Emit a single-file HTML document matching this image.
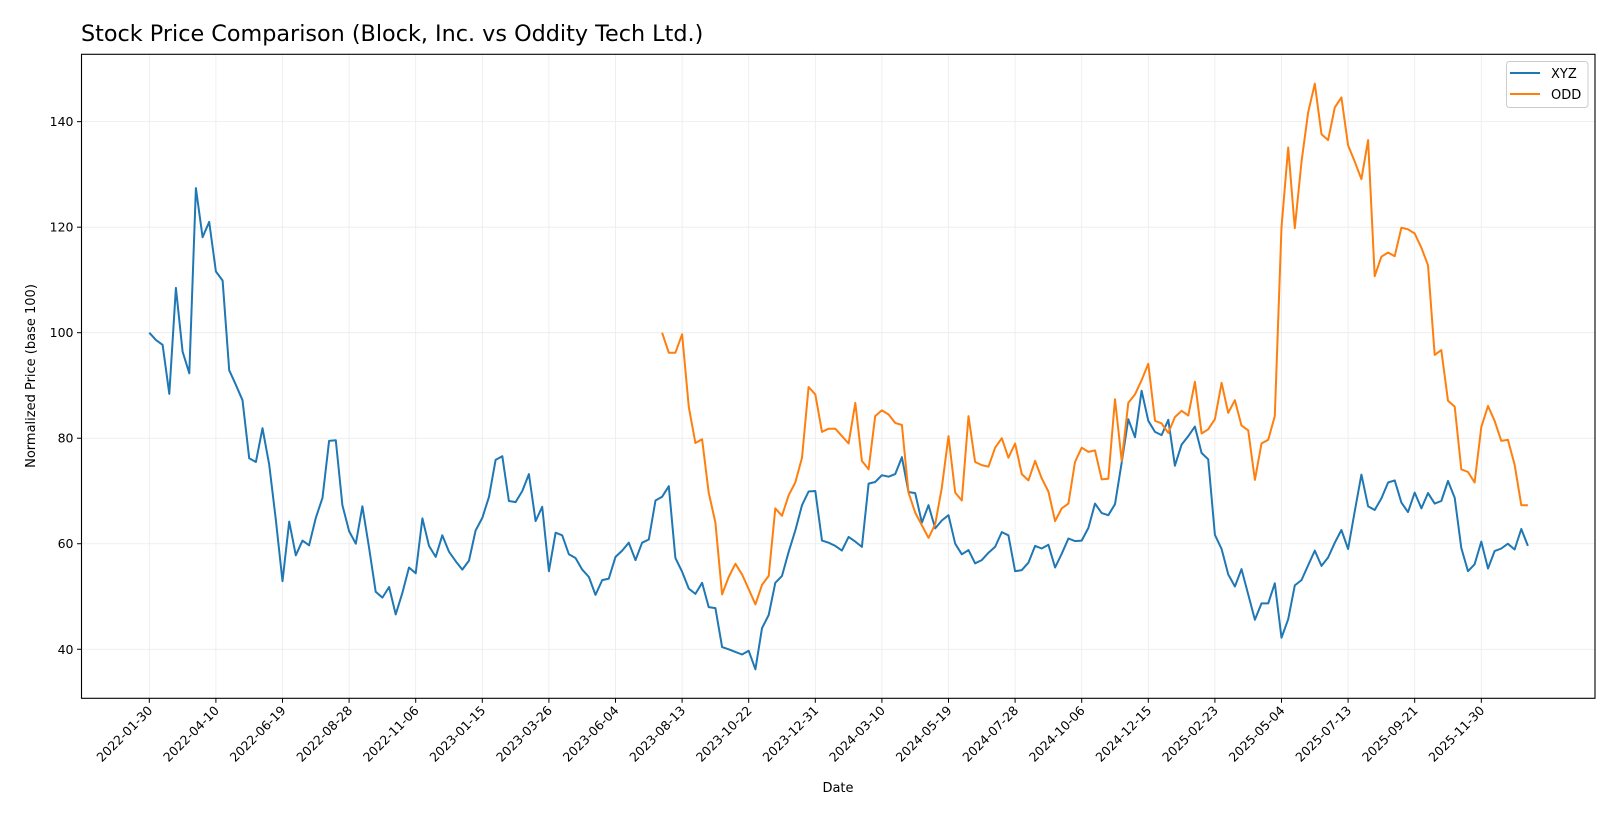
<!DOCTYPE html>
<html><head><meta charset="utf-8"><style>
html,body{margin:0;padding:0;background:#fff;}
svg{display:block;font-family:"DejaVu Sans","Liberation Sans",sans-serif;}
</style></head><body>
<svg id="chart" width="1620" height="819" viewBox="0 0 1620 819" xmlns="http://www.w3.org/2000/svg">
<rect width="1620" height="819" fill="#fff"/>
<text x="81" y="41" font-size="22.3" fill="#000">Stock Price Comparison (Block, Inc. vs Oddity Tech Ltd.)</text>
<g id="grid"></g>
<g id="series"></g>
<rect x="81.5" y="54.3" width="1513.5" height="644" fill="none" stroke="#000" stroke-width="1.1"/>
<g id="axes"></g>
<text x="838" y="792" font-size="13" text-anchor="middle">Date</text>
<text transform="translate(35,376) rotate(-90)" font-size="13" text-anchor="middle">Normalized Price (base 100)</text>
<g>
<rect x="1506.5" y="61.5" width="81.5" height="46" rx="3" fill="#fff" stroke="#ccc" stroke-width="1"/>
<line x1="1510" y1="73" x2="1540" y2="73" stroke="#1f77b4" stroke-width="2"/>
<text x="1551" y="78" font-size="13">XYZ</text>
<line x1="1510" y1="94" x2="1540" y2="94" stroke="#ff7f0e" stroke-width="2"/>
<text x="1551" y="99" font-size="13">ODD</text>
</g>
</svg>
<script>
const xTickLabels = ["2022-01-30","2022-04-10","2022-06-19","2022-08-28","2022-11-06","2023-01-15","2023-03-26","2023-06-04","2023-08-13","2023-10-22","2023-12-31","2024-03-10","2024-05-19","2024-07-28","2024-10-06","2024-12-15","2025-02-23","2025-05-04","2025-07-13","2025-09-21","2025-11-30"];
const yTicks = [40,60,80,100,120,140];
const xyzValues = [100,98.6,97.7,88.4,108.5,96.4,92.3,127.4,118.1,121.0,111.6,109.9,92.9,90.1,87.2,76.2,75.5,81.9,75.0,64.6,52.9,64.2,57.8,60.6,59.7,64.9,68.7,79.5,79.6,67.3,62.4,60.0,67.1,59.2,50.9,49.8,51.8,
46.6,50.7,55.5,54.4,64.8,59.6,57.5,61.6,58.5,56.7,55.1,56.8,62.5,64.9,68.9,75.9,76.6,68.1,67.9,70.0,73.2,64.3,67.0,54.8,62.1,61.6,58.0,57.3,55.1,53.7,50.3,53.1,53.4,57.5,58.7,60.2,56.9,
60.2,60.8,68.2,68.9,70.9,57.3,54.7,51.5,50.5,52.6,48.0,47.8,40.4,40.0,39.5,39.0,39.7,36.2,44.0,46.5,52.6,53.9,58.5,62.5,67.3,69.9,70.0,60.6,60.2,59.6,58.7,61.3,60.4,59.4,71.4,71.7,73.0,72.7,
73.2,76.4,69.8,69.6,64.0,67.3,62.9,64.4,65.4,60.0,58.0,58.8,56.3,56.9,58.3,59.4,62.2,61.6,54.8,55.0,56.4,59.6,59.1,59.8,55.5,58.1,61.0,60.5,60.6,63.0,67.6,65.8,65.4,67.5,75.4,83.6,80.2,89.0,
83.3,81.2,80.6,83.5,74.8,78.8,80.4,82.2,77.2,76.0,61.7,59.0,54.2,51.9,55.2,50.4,45.6,48.7,48.7,52.5,42.2,45.7,52.1,53.1,55.9,58.7,55.8,57.4,60.2,62.6,59.0,66.2,73.1,
67.1,66.4,68.6,71.6,72.0,67.8,66.0,69.7,66.7,69.6,67.6,68.1,71.9,68.7,59.2,54.8,56.1,60.4,55.3,58.6,59.1,60.0,58.9,62.8,59.6];
const oddStartWeek = 77;
const oddValues = [100,96.2,96.2,99.7,85.9,79.1,79.8,69.7,64.0,50.4,53.7,56.2,54.2,51.4,48.5,52.2,53.9,66.7,65.3,69.2,71.6,76.3,89.7,88.3,81.2,81.8,81.8,80.4,79.0,86.7,75.7,74.1,84.2,85.3,84.5,
82.9,82.5,69.7,65.9,63.5,61.1,63.7,70.6,80.4,69.7,68.2,84.2,75.5,74.9,74.6,78.2,80.0,76.3,79.0,73.2,72.0,75.7,72.4,69.9,64.3,66.7,67.6,75.5,78.2,77.4,77.7,72.2,72.3,87.4,75.7,86.7,88.3,91.0,
94.1,83.3,82.8,81.0,84.0,85.2,84.3,90.7,80.9,81.7,83.6,90.5,84.8,87.2,82.4,81.5,72.1,79.0,79.7,84.2,120.0,135.1,119.8,132.4,141.7,147.2,137.6,136.5,142.7,144.6,135.5,132.4,129.1,136.5,
110.7,114.4,115.2,114.5,119.9,119.6,118.8,116.1,112.8,95.8,96.7,87.1,86.0,74.1,73.6,71.6,82.1,86.1,83.3,79.5,79.7,75.0,67.3,67.3];

const NS = "http://www.w3.org/2000/svg";
const L = 81.5, R = 1595, T = 54.3, B = 698.3;
function xScale(week){ return 149.3 + week * 6.66; }
function yScale(v){ return 332.7 - (v - 100) * 5.276; }
function mk(tag, attrs, parent){ const e = document.createElementNS(NS, tag); for (const k in attrs) e.setAttribute(k, attrs[k]); parent.appendChild(e); return e; }
const grid = document.getElementById('grid'), axes = document.getElementById('axes'), series = document.getElementById('series');

xTickLabels.forEach((lab, i) => {
  const x = xScale(i * 10);
  const g = mk('line', {x1:x, y1:T, x2:x, y2:B, stroke:'#ebebeb', 'stroke-width':0.8}, grid);
  
  
  const t = mk('line', {x1:x, y1:B, x2:x, y2:B+4.5, stroke:'#000', 'stroke-width':1}, axes);
  
  
  const tx = mk('text', {x:x+4, y:B+13, 'font-size':12.5, 'text-anchor':'end', transform:'rotate(-45 '+(x+4)+' '+(B+13)+')'}, axes);
  tx.textContent = lab;
  
  
});
yTicks.forEach(v => {
  const y = yScale(v);
  const g = mk('line', {x1:L, y1:y, x2:R, y2:y, stroke:'#ebebeb', 'stroke-width':0.8}, grid);
  
  
  const t = mk('line', {x1:L-4.5, y1:y, x2:L, y2:y, stroke:'#000', 'stroke-width':1}, axes);
  
  
  const tx = mk('text', {x:L-8, y:y+4.5, 'font-size':12.5, 'text-anchor':'end'}, axes);
  tx.textContent = v;
  
  
});
function pts(vals, start){ return vals.map((v,i) => xScale(start+i).toFixed(1)+','+yScale(v).toFixed(1)).join(' '); }
const lx = mk('polyline', {points:pts(xyzValues,0), fill:'none', stroke:'#1f77b4', 'stroke-width':2, 'stroke-linejoin':'round'}, series);


const lo = mk('polyline', {points:pts(oddValues,oddStartWeek), fill:'none', stroke:'#ff7f0e', 'stroke-width':2, 'stroke-linejoin':'round'}, series);


</script>
</body></html>
